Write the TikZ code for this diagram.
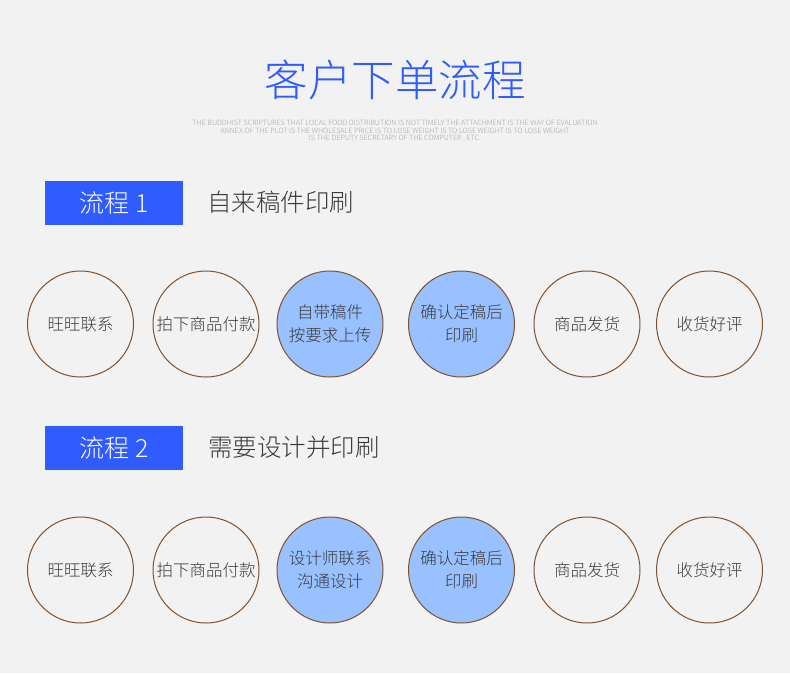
\documentclass[tikz,border=0pt]{standalone}
\usepackage{fontspec}
\setmainfont{Noto Sans CJK SC}[UprightFont={* Light}]
\usepackage{xcolor}
\definecolor{bgray}{HTML}{F2F2F2}
\definecolor{titleblue}{HTML}{2F5BFF}
\definecolor{ringbrown}{HTML}{80522E}
\definecolor{softblue}{HTML}{99C0FF}
\definecolor{inkgray}{HTML}{3A3A3A}
\tikzset{
  stage/.style={circle,draw=ringbrown,line width=1pt,minimum size=106pt,inner sep=0pt,
    align=center,text=inkgray,font=\fontsize{16.5}{23}\selectfont},
  tag/.style={fill=titleblue,text=white,minimum width=138pt,minimum height=44pt,inner sep=0pt,
    font=\fontsize{25}{28}\selectfont},
  caption/.style={anchor=west,text=inkgray,inner sep=0pt,font=\fontsize{24.5}{28}\selectfont},
}
\begin{document}
\begin{tikzpicture}[x=1pt,y=-1pt]
  \fill[bgray] (0,0) rectangle (790,673);
  \useasboundingbox (0,0) rectangle (790,673);
  \node[titleblue,font=\fontsize{43.5}{48}\selectfont] (title) at (395,80) {客户下单流程};
  \node[gray!70,font=\fontsize{7.2}{7.6}\selectfont,align=center,inner sep=0pt] (motto) at (395,131)
    {THE BUDDHIST SCRIPTURES THAT LOCAL FOOD DISTRIBUTION IS NOT TIMELY THE ATTACHMENT IS THE WAY OF EVALUATION\\
     ANNEX OF THE PLOT IS THE WHOLESALE PRICE IS TO LOSE WEIGHT IS TO LOSE WEIGHT IS TO LOSE WEIGHT\\
     IS THE DEPUTY SECRETARY OF THE COMPUTER , ETC.};
  % flow 1
  \node[tag] (tagA) at (114,203) {流程 1};
  \node[caption] (capA) at (207,202) {自来稿件印刷};
  \node[stage] (a1) at (80.5,324) {旺旺联系};
  \node[stage] (a2) at (206,324) {拍下商品付款};
  \node[stage,fill=softblue] (a3) at (330,324) {自带稿件\\按要求上传};
  \node[stage,fill=softblue] (a4) at (461.5,324) {确认定稿后\\印刷};
  \node[stage] (a5) at (587,324) {商品发货};
  \node[stage] (a6) at (709.5,324) {收货好评};
  % flow 2
  \node[tag] (tagB) at (114,448) {流程 2};
  \node[caption] (capB) at (208,447) {需要设计并印刷};
  \node[stage] (b1) at (80.5,570) {旺旺联系};
  \node[stage] (b2) at (206,570) {拍下商品付款};
  \node[stage,fill=softblue] (b3) at (330,570) {设计师联系\\沟通设计};
  \node[stage,fill=softblue] (b4) at (461.5,570) {确认定稿后\\印刷};
  \node[stage] (b5) at (587,570) {商品发货};
  \node[stage] (b6) at (709.5,570) {收货好评};
\end{tikzpicture}
\end{document}
